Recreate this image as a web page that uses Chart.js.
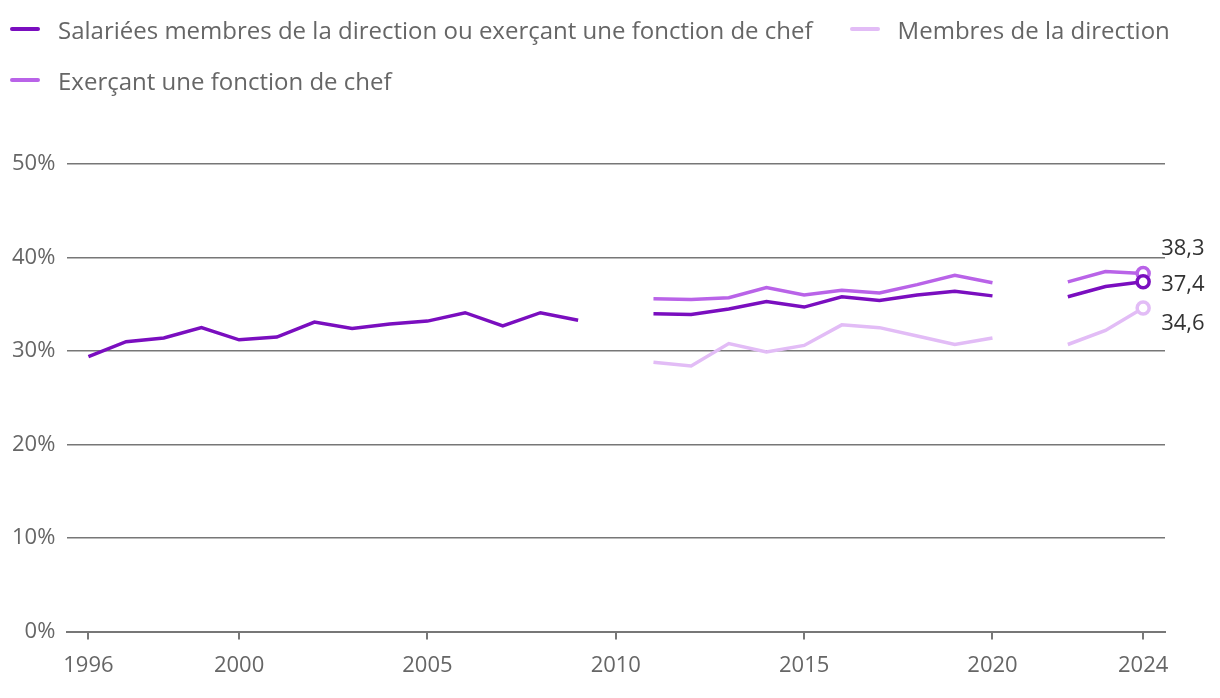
<!DOCTYPE html>
<html>
<head>
<meta charset="utf-8">
<script src="https://cdn.jsdelivr.net/npm/chart.js@4"></script>
<style>
  body { margin: 0; background: #fff; font-family: "Open Sans", sans-serif; }
  #wrap { position: relative; width: 1220px; height: 698px; }
  #legend { position: absolute; left: 10px; top: 11px; width: 1200px; display: flex; flex-wrap: wrap; }
  .item { display: flex; align-items: center; height: 36px; margin: 0 37px 15px 0; font-size: 24px; color: #666; white-space: nowrap; }
  .swatch { width: 30px; height: 4px; border-radius: 2px; margin-right: 18px; }
</style>
</head>
<body>
<div id="wrap">
  <div id="legend"></div>
  <canvas id="c"></canvas>
</div>
<script>
var years = [1996,1997,1998,1999,2000,2001,2002,2003,2004,2005,2006,2007,2008,2009,2010,
             2011,2012,2013,2014,2015,2016,2017,2018,2019,2020,2021,2022,2023,2024];
var xTicks = [1996,2000,2005,2010,2015,2020,2024];

// share of women, %
var salariees = [29.4,31.0,31.4,32.5,31.2,31.5,33.1,32.4,32.9,33.2,34.1,32.7,34.1,33.3,null,
                 34.0,33.9,34.5,35.3,34.7,35.8,35.4,36.0,36.4,35.9,null,35.8,36.9,37.4];
var membres = [null,null,null,null,null,null,null,null,null,null,null,null,null,null,null,
               28.8,28.4,30.8,29.9,30.6,32.8,32.5,31.6,30.7,31.4,null,30.7,32.2,34.6];
var chefs = [null,null,null,null,null,null,null,null,null,null,null,null,null,null,null,
             35.6,35.5,35.7,36.8,36.0,36.5,36.2,37.1,38.1,37.3,null,37.4,38.5,38.3];

function pts(arr) {
  return years.map(function (y, i) { return { x: y, y: arr[i] }; });
}
var last = years.length - 1;
function lastOnly(ctx) { return ctx.dataIndex === last ? 6 : 0; }

// end-of-line value labels, nudged up/down so they don't overlap
var endLabels = {
  id: 'endLabels',
  afterDatasetsDraw: function (chart) {
    var c = chart.ctx;
    var nudge = [3, 16, -25];
    c.save();
    c.font = '22px "Open Sans"';
    c.fillStyle = '#333';
    c.textBaseline = 'middle';
    chart.data.datasets.forEach(function (ds, i) {
      var p = chart.getDatasetMeta(i).data[last];
      var v = ds.data[last].y;
      c.fillText(v.toFixed(1).replace('.', ','), p.x + 18, p.y + nudge[i]);
    });
    c.restore();
  }
};

var ctx = document.getElementById('c');
var chart = new Chart(ctx, {
  type: 'line',
  data: {
    datasets: [
      {
        label: 'Salariées membres de la direction ou exerçant une fonction de chef',
        data: pts(salariees),
        borderColor: '#7a0ebf',
        backgroundColor: '#fff',
        borderWidth: 3.5
      },
      {
        label: 'Membres de la direction',
        data: pts(membres),
        borderColor: '#e2bcf6',
        backgroundColor: '#fff',
        borderWidth: 3.5
      },
      {
        label: 'Exerçant une fonction de chef',
        data: pts(chefs),
        borderColor: '#b963e8',
        backgroundColor: '#fff',
        borderWidth: 3.5
      }
    ]
  },
  options: {
    responsive: true,
    maintainAspectRatio: false,
    animation: false,
    spanGaps: false,
    elements: {
      line: { tension: 0 },
      point: { radius: lastOnly, hoverRadius: lastOnly, borderWidth: 3 }
    },
    layout: { padding: { left: 0, right: 55, top: 164, bottom: 6 } },
    plugins: {
      tooltip: { enabled: false },
      legend: { display: false }
    },
    scales: {
      x: {
        type: 'linear',
        min: 1995.44,
        max: 2024.58,
        afterBuildTicks: function (axis) {
          axis.ticks = xTicks.map(function (v) { return { value: v }; });
        },
        ticks: {
          font: { family: 'Open Sans', size: 22 },
          color: '#666',
          maxRotation: 0,
          autoSkip: false,
          padding: 13,
          callback: function (v) { return String(v); }
        },
        grid: { drawOnChartArea: false, color: '#777', lineWidth: 2, tickLength: 8 },
        border: { display: true, color: '#777', width: 2 }
      },
      y: {
        min: 0,
        max: 50,
        ticks: {
          stepSize: 10,
          font: { family: 'Open Sans', size: 22 },
          color: '#666',
          padding: 12,
          callback: function (v) { return v + '%'; }
        },
        grid: { color: '#777', lineWidth: 1.5, drawTicks: false },
        border: { display: false }
      }
    }
  },
  plugins: [endLabels]
});

// html legend built from the datasets
var legend = document.getElementById('legend');
chart.data.datasets.forEach(function (ds) {
  var item = document.createElement('div');
  item.className = 'item';
  var sw = document.createElement('span');
  sw.className = 'swatch';
  sw.style.background = ds.borderColor;
  item.appendChild(sw);
  item.appendChild(document.createTextNode(ds.label));
  legend.appendChild(item);
});
</script>
</body>
</html>
